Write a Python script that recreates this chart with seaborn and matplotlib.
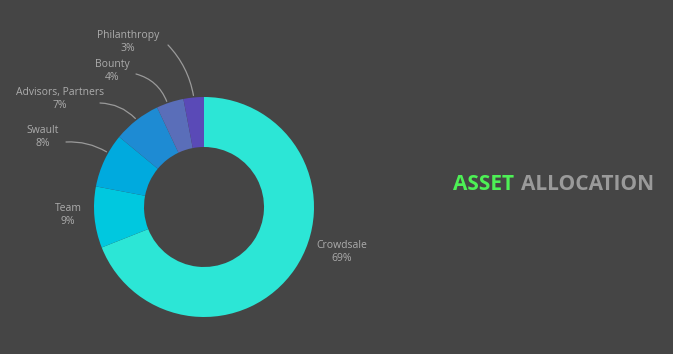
import numpy as np
import matplotlib
matplotlib.use("Agg")
import matplotlib.pyplot as plt
import seaborn as sns

categories = ["Crowdsale", "Team", "Swault", "Advisors, Partners", "Bounty", "Philanthropy"]
values = [69, 9, 8, 7, 4, 3]
colors = ["#2ce6d6", "#00c8df", "#00aade", "#1e8bd3", "#5a6eb9", "#5a4ab7"]
title_words = ["ASSET", "ALLOCATION"]

BG = "#454545"
TXT = "#acacac"

sns.set_theme(style="dark", rc={"axes.facecolor": BG, "figure.facecolor": BG})
plt.rcParams["font.family"] = ["Open Sans", "DejaVu Sans"]

W, H = 673, 354
fig = plt.figure(figsize=(W / 100, H / 100), dpi=100)
ax = fig.add_axes([0, 0, 1, 1])

cx, cy, R = 204, H - 207, 110
wedges, _ = ax.pie(values, colors=colors, startangle=90, counterclock=False,
                   center=(cx, cy), radius=R, frame=True,
                   wedgeprops=dict(width=50, linewidth=0))
ax.set_xlim(0, W)
ax.set_ylim(0, H)
ax.set_aspect("equal")
ax.axis("off")

# label positions (pixels from top-left), leader line flag, curvature, anchor fraction
label_pos = {
    "Crowdsale": (342, 252, False, 0, 0.5),
    "Team": (68, 215, False, 0, 0.5),
    "Swault": (43, 137, True, -0.15, 0.35),
    "Advisors, Partners": (60, 99, True, -0.2, 0.5),
    "Bounty": (112, 71, True, -0.25, 0.6),
    "Philanthropy": (128, 42, True, -0.15, 0.5),
}
line_start = {
    "Swault": (66, 142),
    "Advisors, Partners": (100, 103),
    "Bounty": (136, 74),
    "Philanthropy": (168, 45),
}

for w, cat, v in zip(wedges, categories, values):
    lx, ly, has_line, rad, frac = label_pos[cat]
    ax.text(lx, H - ly, f"{cat}\n{v}%", ha="center", va="center", color=TXT,
            fontsize=7.5, linespacing=1.3)
    if has_line:
        ang = np.deg2rad(w.theta1 + frac * (w.theta2 - w.theta1))
        ex = cx + (R + 2) * np.cos(ang)
        ey = cy + (R + 2) * np.sin(ang)
        sx, sy = line_start[cat]
        ax.annotate("", xy=(ex, ey), xytext=(sx, H - sy),
                    arrowprops=dict(arrowstyle="-", color="#9a9a9a", lw=0.9,
                                    connectionstyle=f"arc3,rad={rad}",
                                    shrinkA=0, shrinkB=0))

ax.text(453, H - 185, title_words[0], color="#4df055", fontsize=15,
        fontweight="bold", ha="left", va="center", family=["Open Sans", "DejaVu Sans"])
ax.text(521, H - 185, title_words[1], color="#9a9a9a", fontsize=15,
        fontweight="bold", ha="left", va="center", family=["Open Sans", "DejaVu Sans"])

fig.savefig("out.png", dpi=100, facecolor=BG)
